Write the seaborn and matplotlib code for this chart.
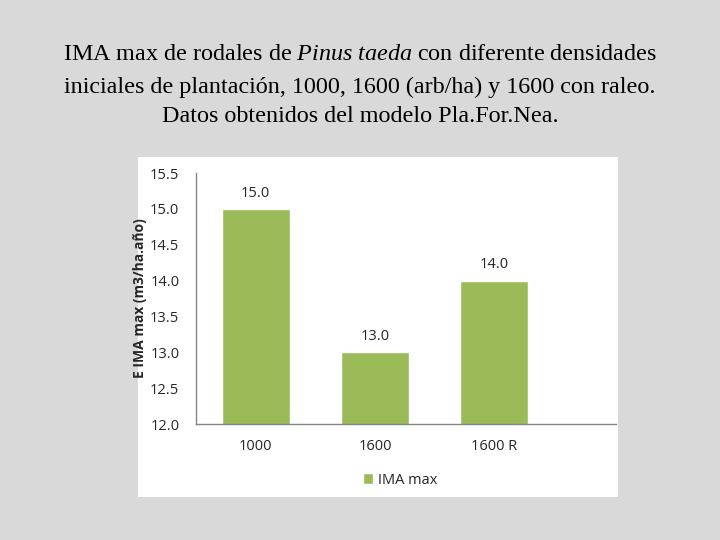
import matplotlib
matplotlib.use("Agg")
import matplotlib.pyplot as plt
import seaborn as sns
import pandas as pd
from matplotlib.patches import Rectangle

categories = ["1000", "1600", "1600 R"]
values = [15.0, 13.0, 14.0]
series_name = "IMA max"
yticks = [12.0, 12.5, 13.0, 13.5, 14.0, 14.5, 15.0, 15.5]
title_lines = [
    r"IMA max de rodales de $\mathit{Pinus\ taeda}$ con diferente densidades",
    "iniciales de plantación, 1000, 1600 (arb/ha) y 1600 con raleo.",
    "Datos obtenidos del modelo Pla.For.Nea.",
]
ylabel = "E IMA max (m3/ha.año)"

sns.set_theme(style="white")
plt.rcParams["font.family"] = ["Open Sans", "DejaVu Sans"]
plt.rcParams["mathtext.fontset"] = "custom"
plt.rcParams["mathtext.rm"] = "Liberation Serif"
plt.rcParams["mathtext.it"] = "Liberation Serif:italic"

BG = "#d9d9d9"
GREEN = "#9bbb59"
AXC = "#868686"
TXT = "#262626"

fig = plt.figure(figsize=(7.2, 5.4), dpi=100, facecolor=BG)

# white chart panel
fig.patches.append(Rectangle((138 / 720, 1 - 497 / 540), 480 / 720, 340 / 540,
                             transform=fig.transFigure, facecolor="white",
                             edgecolor="none", zorder=-5))

# title
for y, line in zip([55, 87, 117], title_lines):
    fig.text(0.5, 1 - y / 540, line, ha="center", va="center",
             fontsize=17.4, family="Liberation Serif", color="black")

ax = fig.add_axes([196 / 720, 1 - 424 / 540, 420 / 720, 251 / 540])
ax.set_zorder(2)
ax.set_facecolor("white")
df = pd.DataFrame({"cat": categories, "val": values})
sns.barplot(data=df, x="cat", y="val", color=GREEN, width=0.57,
            saturation=1, label=series_name, ax=ax, zorder=2)

ax.set_ylim(12.0, 15.5)
ax.set_xlim(-0.5, 3.02)
ax.set_yticks(yticks)
ax.set_yticklabels([f"{t:.1f}" for t in yticks])
ax.tick_params(axis="both", length=0, labelsize=10.5, labelcolor=TXT)
ax.tick_params(axis="y", pad=12)
ax.tick_params(axis="x", pad=11)
ax.set_xlabel("")
ax.set_ylabel(ylabel, fontsize=10, fontweight="bold", color=TXT)
ax.yaxis.set_label_coords(-0.116, 0.5)

for s in ["top", "right"]:
    ax.spines[s].set_visible(False)
for s in ["left", "bottom"]:
    ax.spines[s].set_color(AXC)
    ax.spines[s].set_linewidth(1.0)

for c in ax.containers:
    ax.bar_label(c, labels=[f"{v:.1f}" for v in values], padding=6,
                 fontsize=10.5, color=TXT)

leg = ax.legend(loc="center", bbox_to_anchor=(400 / 720, 1 - 480 / 540),
                bbox_transform=fig.transFigure, frameon=False,
                handlelength=0.7, handleheight=0.7, handletextpad=0.3,
                fontsize=10.5)
for t in leg.get_texts():
    t.set_color(TXT)

fig.savefig("out.png", dpi=100, facecolor=BG)
